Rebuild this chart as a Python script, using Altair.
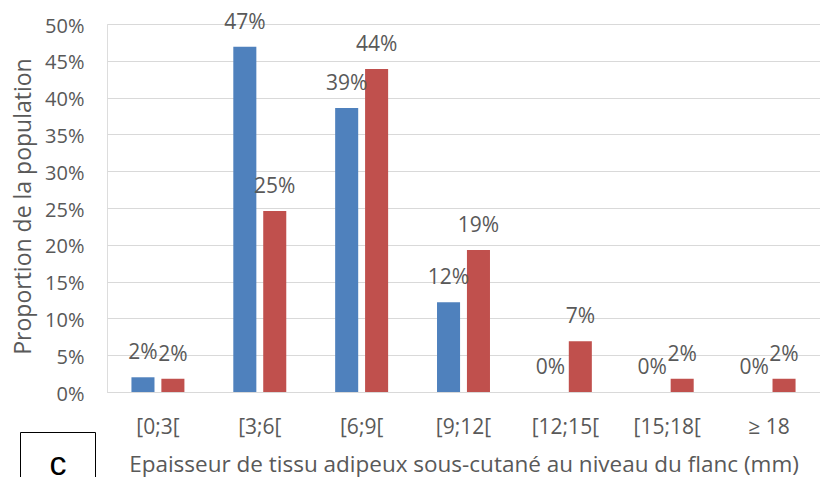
import altair as alt
import pandas as pd

categories = ["[0;3[", "[3;6[", "[6;9[", "[9;12[", "[12;15[", "[15;18[", "≥ 18"]
series_names = ["A", "B"]
blue_values = [0.020, 0.469, 0.386, 0.122, 0.0, 0.0, 0.0]
red_values = [0.018, 0.246, 0.439, 0.193, 0.069, 0.018, 0.018]
y_ticks = [0, 0.05, 0.10, 0.15, 0.20, 0.25, 0.30, 0.35, 0.40, 0.45, 0.50]

rows = []
for c, b, r in zip(categories, blue_values, red_values):
    rows.append({"cat": c, "series": "A", "value": b})
    rows.append({"cat": c, "series": "B", "value": r})
df = pd.DataFrame(rows)

FONT = "Open Sans"
GREY = "#595959"

x_enc = alt.X("cat:N", sort=categories,
              scale=alt.Scale(paddingInner=0.48, paddingOuter=0.24),
              axis=alt.Axis(title="Epaisseur de tissu adipeux sous-cutané au niveau du flanc (mm)",
                            labelAngle=0, labelFontSize=21, labelColor=GREY, labelFont=FONT,
                            labelBaseline="alphabetic", labelPadding=41,
                            ticks=False, domainColor="#d9d9d9",
                            titleFontSize=22.5, titleFont=FONT, titleColor=GREY,
                            titleFontWeight="normal", titleY=79, titleBaseline="alphabetic"))
xoff = alt.XOffset("series:N", sort=series_names, scale=alt.Scale(paddingInner=0.23))
y_enc = alt.Y("value:Q", scale=alt.Scale(domain=[0, 0.5]),
              axis=alt.Axis(values=y_ticks, format=".0%", title="Proportion de la population",
                            labelFontSize=20, labelColor=GREY, labelFont=FONT, labelPadding=23,
                            labelOverlap=False, labelBaseline="alphabetic", labelOffset=8,
                            ticks=False, domain=False, gridColor="#d9d9d9", gridWidth=1,
                            titleFontSize=23, titleFont=FONT, titleColor=GREY,
                            titleFontWeight="normal", titleAngle=-90, titleX=-84, titleY=182,
                            titleAlign="center", titleBaseline="middle"))

base = alt.Chart(df).encode(x=x_enc, xOffset=xoff, y=y_enc)

bars = base.mark_bar().encode(
    color=alt.Color("series:N", sort=series_names,
                    scale=alt.Scale(domain=series_names, range=["#4f81bd", "#c0504d"]),
                    legend=None),
)

labels = base.mark_text(fontSize=21, font=FONT, color=GREY, baseline="alphabetic",
                        dy=-18).encode(
    text=alt.Text("value:Q", format=".0%"),
)

box_df = pd.DataFrame({"t": ["c"]})
box = alt.Chart(box_df).mark_rect(fill="white", stroke="black", strokeWidth=1).encode(
    x=alt.value(-86.5), x2=alt.value(-11.5), y=alt.value(408.5), y2=alt.value(480))
box_text = alt.Chart(box_df).mark_text(font="Liberation Sans", fontSize=34, color="black",
                                       baseline="alphabetic", align="center").encode(
    x=alt.value(-49), y=alt.value(451), text="t:N")

chart = alt.layer(bars, labels, box, box_text).properties(
    width=713, height=368,
    autosize=alt.AutoSizeParams(type="none"),
    padding={"left": 99, "top": 16, "right": 0, "bottom": 85},
).configure_view(stroke=None).configure(background="white")

chart.save("out.html", embed_options={"renderer": "svg", "actions": False})
